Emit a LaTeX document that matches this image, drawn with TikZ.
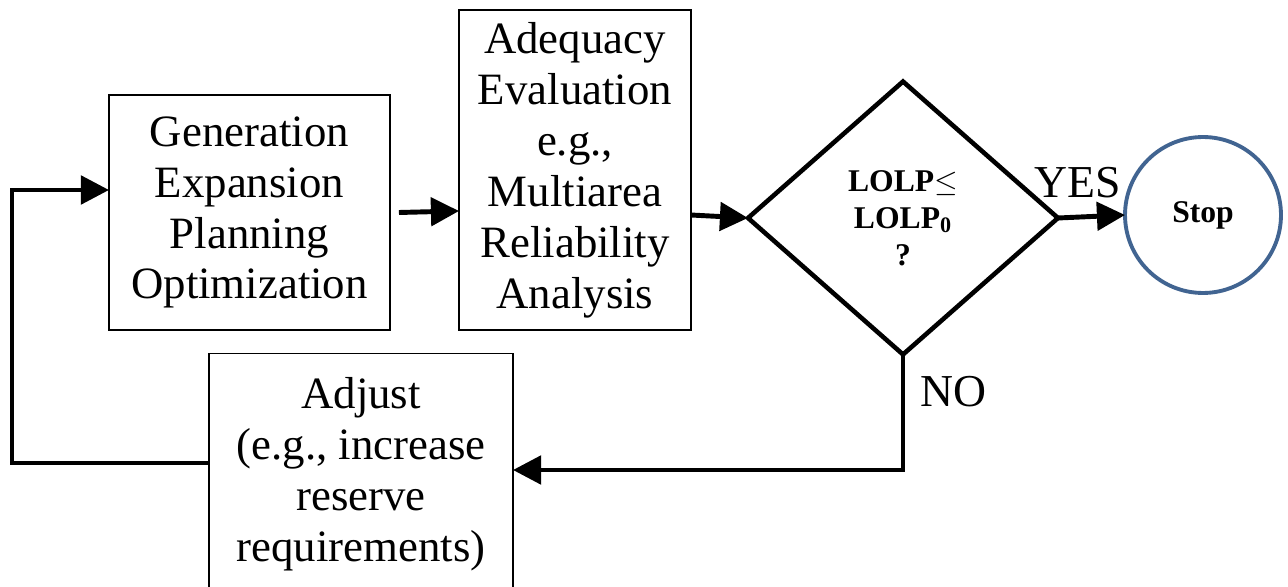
\documentclass[tikz,border=0pt]{standalone}
\usepackage{fontspec}
\setmainfont{Liberation Serif}
\usepackage{xcolor}
\usetikzlibrary{arrows.meta}
\usetikzlibrary{shapes.geometric}
\definecolor{stopblue}{RGB}{65,100,145}

\begin{document}
\begin{tikzpicture}[x=0.02cm,y=-0.02cm,
box/.style={draw,line width=0.9pt,align=center,inner sep=0pt,outer sep=0pt,font=\fontsize{25.5}{29}\selectfont},
decision/.style={diamond,draw,line width=2.6pt,align=center,inner sep=0pt,outer sep=0pt,font=\fontsize{18}{21}\selectfont\bfseries},
flow/.style={line width=2.8pt,-{Triangle[length=16pt,width=16pt]}},
lbl/.style={font=\fontsize{26}{30}\selectfont}]
\useasboundingbox (0,0) rectangle (1288,587);
\node[box,minimum width=5.62cm,minimum height=4.7cm] (gen) at (249.5,212.5) {Generation\\Expansion\\Planning\\Optimization};
\node[box,minimum width=4.64cm,minimum height=6.4cm] (adeq) at (575,170) {Adequacy\\Evaluation\\e.g.,\\Multiarea\\Reliability\\Analysis};
\node[decision,minimum width=6.2cm,minimum height=5.46cm] (dec) at (903,218) {LOLP\(\leq\)\\LOLP\textsubscript{0}\\?};
\node[circle,draw=stopblue,line width=2.2pt,minimum size=3.12cm,inner sep=0pt,outer sep=0pt,font=\fontsize{18}{21}\selectfont\bfseries] (stop) at (1203,215) {Stop};
\node[box,minimum width=6.08cm,minimum height=4.82cm] (adjust) at (361,474) {Adjust\\(e.g., increase\\reserve\\requirements)};
% connectors
\draw[flow] ([xshift=0.18cm]gen.east) -- (adeq.west |- 0,211);
\draw[flow] (adeq.east |- 0,215) -- (dec.west);
\draw[flow] (dec.east) -- (stop.west);
\draw[flow] (dec.south) |- (adjust.east |- 0,470);
\draw[flow] (adjust.west |- 0,463) -| (12,190) -- (gen.west |- 0,190);
\node[lbl] (yes) at (1078,183) {YES};
\node[lbl] (no) at (953,392) {NO};
\end{tikzpicture}
\end{document}
